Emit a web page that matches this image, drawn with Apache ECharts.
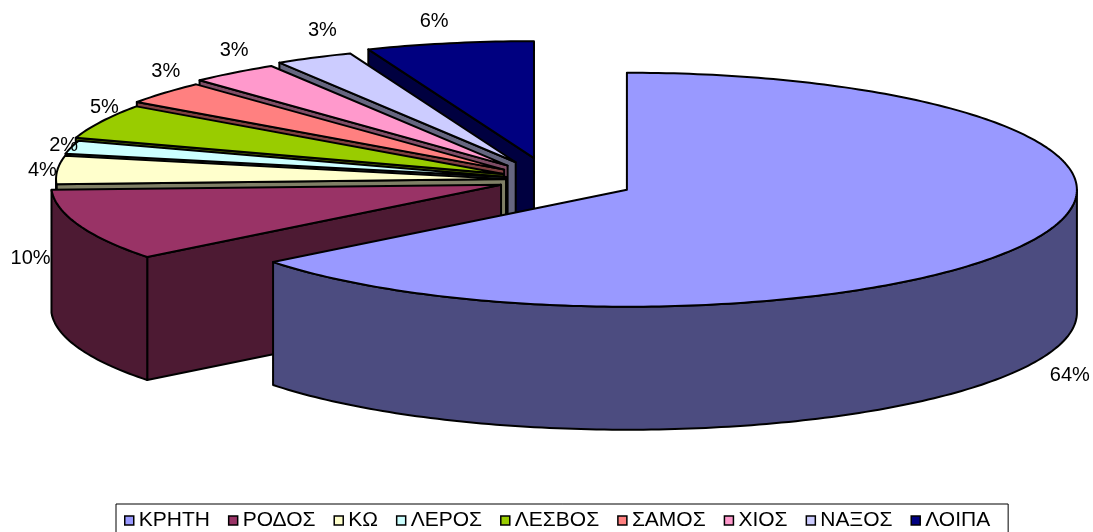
<!DOCTYPE html>
<html>
<head>
<meta charset="utf-8">
<script src="https://cdn.jsdelivr.net/npm/echarts@6/dist/echarts.min.js"></script>
<style>
  html, body { margin: 0; padding: 0; background: #fff; }
  #chart { width: 1093px; height: 532px; }
</style>
</head>
<body>
<div id="chart"></div>
<script>
// data (percent shares, clockwise from 12 o'clock)
const names = ['ΚΡΗΤΗ', 'ΡΟΔΟΣ', 'ΚΩ', 'ΛΕΡΟΣ', 'ΛΕΣΒΟΣ', 'ΣΑΜΟΣ', 'ΧΙΟΣ', 'ΝΑΞΟΣ', 'ΛΟΙΠΑ'];
const shares = [64.4, 9.9, 3.9, 1.8, 4.8, 3.2, 3.2, 2.8, 6.0];

// look
const faceColors = ['#9999FF', '#993366', '#FFFFCC', '#CCFFFF', '#99CC00', '#FF8080', '#FF99CC', '#CCCCFF', '#000080'];
const sideColors = ['#4C4C80', '#4D1A33', '#808066', '#668080', '#4D6600', '#804040', '#804D66', '#666680', '#000040'];
const explode = [0.19, 0.116, 0.098, 0.1, 0.115, 0.135, 0.155, 0.17, 0.19];
const labelNudge = [[31, 122], [-41, 23], [-7, 3], [0, 5], [10, -1], [7, -3], [5, 0], [12, -2], [-14, 6]];

// pie geometry (screen px)
const geo = { cx: 550, cy: 180, rx: 450, ry: 117, depth: 123 };
const RAD = Math.PI / 180;
const EDGE = 2;

const total = shares.reduce((s, v) => s + v, 0);
const startDeg = [];
let acc = 0;
shares.forEach((v, i) => { startDeg[i] = -90 + acc / total * 360; acc += v; });

function apexOf(i, value) {
  const mid = (startDeg[i] + value / total * 180) * RAD;
  return [geo.cx + explode[i] * geo.rx * Math.cos(mid), geo.cy + explode[i] * geo.ry * Math.sin(mid)];
}
function rim(P, deg, dy) {
  return [P[0] + geo.rx * Math.cos(deg * RAD), P[1] + geo.ry * Math.sin(deg * RAD) + (dy || 0)];
}
function arc(P, d1, d2, dy) {
  const n = Math.max(2, Math.ceil(Math.abs(d2 - d1)));
  const pts = [];
  for (let k = 0; k <= n; k++) pts.push(rim(P, d1 + (d2 - d1) * k / n, dy));
  return pts;
}

function sliceRenderer(i) {
  return function (params, api) {
    const value = api.value(0);
    const t1 = startDeg[i];
    const t2 = t1 + value / total * 360;
    const P = apexOf(i, value);
    const Pb = [P[0], P[1] + geo.depth];
    const side = { fill: sideColors[i], stroke: '#000', lineWidth: EDGE, lineJoin: 'round' };
    const kids = [];
    // radial walls that face the viewer
    if (Math.cos(t1 * RAD) < -1e-6) {
      kids.push({ type: 'polygon', shape: { points: [P, rim(P, t1), rim(P, t1, geo.depth), Pb] }, style: side });
    }
    if (Math.cos(t2 * RAD) > 1e-6) {
      kids.push({ type: 'polygon', shape: { points: [P, rim(P, t2), rim(P, t2, geo.depth), Pb] }, style: side });
    }
    // front part of the outer wall
    const w1 = Math.max(t1, 0), w2 = Math.min(t2, 180);
    if (w2 > w1) {
      kids.push({ type: 'polygon', shape: { points: arc(P, w1, w2, 0).concat(arc(P, w2, w1, geo.depth)) }, style: side });
    }
    kids.push({
      type: 'polygon',
      shape: { points: [P].concat(arc(P, t1, t2, 0)) },
      style: { fill: faceColors[i], stroke: '#000', lineWidth: EDGE, lineJoin: 'round' }
    });
    return { type: 'group', children: kids };
  };
}

function labelRenderer(params, api) {
  const i = params.dataIndex;
  const value = api.value(0);
  const mid = startDeg[i] + value / total * 180;
  const P = apexOf(i, value);
  const x = P[0] + (geo.rx + 8) * Math.cos(mid * RAD) + labelNudge[i][0];
  const y = P[1] + (geo.ry + 28) * Math.sin(mid * RAD) + labelNudge[i][1];
  return {
    type: 'text',
    style: {
      text: Math.round(value) + '%', x: x, y: y, fill: '#000',
      fontSize: 20, fontFamily: '"Liberation Sans", Arial, sans-serif',
      align: 'center', verticalAlign: 'middle'
    }
  };
}

// back slices first
const mids = shares.map((v, i) => Math.sin((startDeg[i] + v / total * 180) * RAD));
const order = mids.map((m, i) => i).sort((a, b) => mids[a] - mids[b]);
const zOf = [];
order.forEach((idx, rank) => { zOf[idx] = 2 + rank; });

const series = names.map((name, i) => ({
  name: name,
  type: 'custom',
  coordinateSystem: 'none',
  silent: true,
  z: zOf[i],
  itemStyle: { color: faceColors[i] },
  renderItem: sliceRenderer(i),
  data: [[shares[i]]]
}));
series.push({
  type: 'custom',
  coordinateSystem: 'none',
  silent: true,
  z: 50,
  renderItem: labelRenderer,
  data: shares.map(v => [v])
});

const chart = echarts.init(document.getElementById('chart'));
chart.setOption({
  animation: false,
  backgroundColor: '#fff',
  legend: {
    data: names.map((n, i) => ({ name: n, itemStyle: { color: faceColors[i] } })),
    left: 116,
    top: 504,
    icon: 'rect',
    itemWidth: 9,
    itemHeight: 9,
    itemGap: 18,
    padding: [6, 18, 6, 8],
    borderColor: '#000',
    borderWidth: 1,
    borderRadius: 0,
    selectedMode: false,
    itemStyle: { borderColor: '#000', borderWidth: 1.5 },
    textStyle: { color: '#000', fontSize: 21, fontFamily: '"Liberation Sans", Arial, sans-serif' }
  },
  series: series
});
</script>
</body>
</html>
